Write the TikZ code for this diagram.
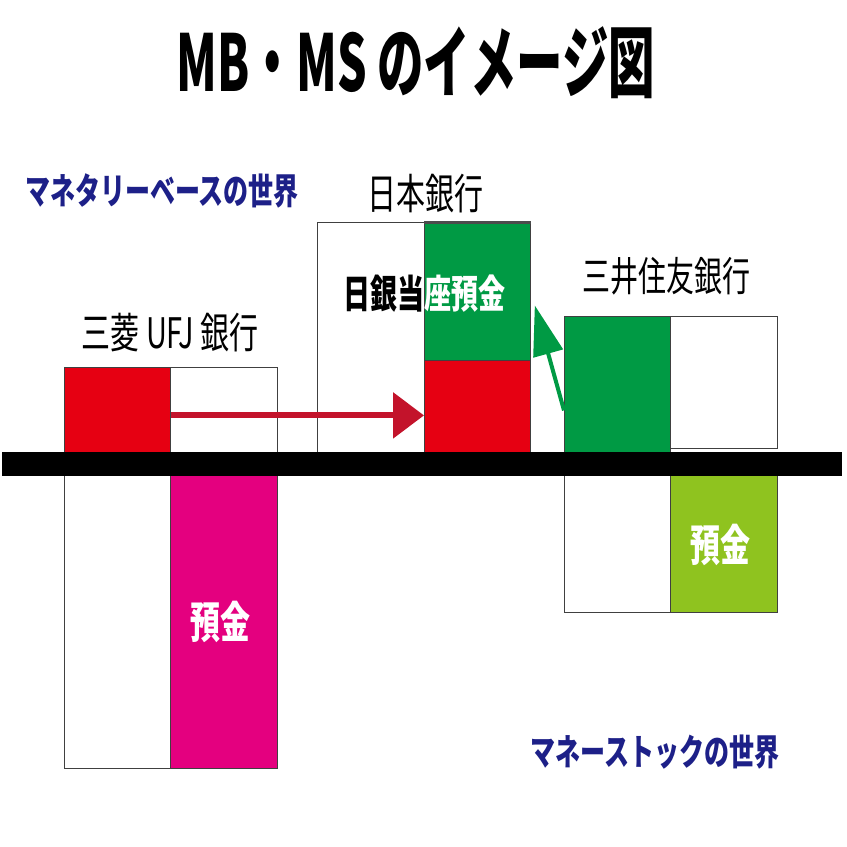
\documentclass[tikz,border=0pt]{standalone}
\usepackage{fontspec}
\usepackage{graphicx}
\newfontfamily\jp{Noto Sans CJK JP}
\usetikzlibrary{arrows.meta,calc}
\definecolor{jred}{HTML}{E60012}
\definecolor{jdred}{HTML}{C3132B}
\definecolor{jgreen}{HTML}{009A44}
\definecolor{jmag}{HTML}{E4007F}
\definecolor{jyg}{HTML}{8FC31F}
\definecolor{jnavy}{HTML}{1D2088}
\newcommand{\tallt}[1]{\scalebox{1}[1.45]{#1}}
\tikzset{
  box/.style={draw=black!75, line width=0.8pt, inner sep=0pt, anchor=north west},
  fs/.style={font=\jp\fontsize{#1}{#1}\selectfont, inner sep=0pt},
  fsb/.style={font=\jp\bfseries\fontsize{#1}{#1}\selectfont, inner sep=0pt},
}
\begin{document}
\begin{tikzpicture}[x=1pt,y=-1pt]
\useasboundingbox (0,0) rectangle (847,847);
\fill[white] (0,0) rectangle (847,847);
% title
\node[fsb=54] (title) at (416,63) {\scalebox{0.86}[1.45]{MB・MS のイメージ図}};
\node[fsb=25, text=jnavy] (mbw) at (162,191) {\tallt{マネタリーベースの世界}};
\node[fsb=25, text=jnavy] (msw) at (655,752) {\tallt{マネーストックの世界}};
% Mitsubishi
\node[fs=29] (ml) at (170,333) {\tallt{三菱 UFJ 銀行}};
\node[box, fill=jred, minimum width=106, minimum height=85] (mr) at (64,367) {};
\node[box, fill=white, minimum width=107, minimum height=85] (mw) at (170,367) {};
\node[box, fill=white, minimum width=106, minimum height=293] (mlw) at (64,475) {};
\node[box, fill=jmag, minimum width=107, minimum height=293] (mm) at (170,475) {};
\node[fsb=30, text=white] (mmt) at (220,622) {\tallt{預金}};
% BOJ
\node[fs=29] (bl) at (425,194) {\tallt{日本銀行}};
\node[box, fill=white, minimum width=107, minimum height=230] (bw) at (317,222) {};
\node[box, fill=jgreen, minimum width=106, minimum height=138] (bg) at (424,222) {};
\draw[black!70, line width=3pt] (bg.north west) -- (bg.north east);
\node[box, fill=jred, minimum width=106, minimum height=92] (br) at (424,360) {};
\node[fsb=27] (bt) at (424,294) {\tallt{\textcolor{black}{日銀当}\textcolor{white}{座預金}}};
% Sumitomo
\node[fs=28] (sl) at (666,276) {\tallt{三井住友銀行}};
\node[box, fill=jgreen, minimum width=106, minimum height=136] (sg) at (564,316) {};
\node[box, fill=white, minimum width=107, minimum height=132] (sw) at (670,316) {};
\node[box, fill=white, minimum width=106, minimum height=137] (slw) at (564,475) {};
\node[box, fill=jyg, minimum width=107, minimum height=137] (sy) at (670,475) {};
\node[fsb=30, text=white] (syt) at (720,545) {\tallt{預金}};
% bar
\node[fill=black, inner sep=0pt, minimum width=840, minimum height=24, anchor=north west] (bar) at (2,452) {};
% arrows
\draw[jdred, line width=6pt, -{Triangle[length=31pt,width=45pt]}] ($(mr.east)+(0,5.5)$) -- ($(br.west)+(0,9)$);
\draw[jgreen, line width=4pt, -{Triangle[length=50pt,width=30pt]}] ($(sg.west)+(0,26)$) -- ($(bg.east)+(4,14)$);
\end{tikzpicture}
\end{document}
